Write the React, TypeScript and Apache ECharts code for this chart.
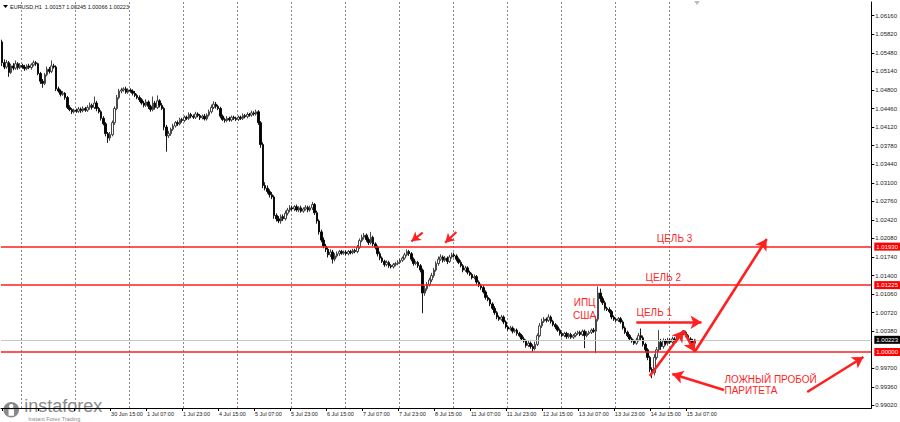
import React, { useEffect, useRef } from 'react';
import * as echarts from 'echarts';

// ---- time axis (H1 bars) ----
const DAYS = ['28 Jun', '29 Jun', '30 Jun', '1 Jul', '4 Jul', '5 Jul', '6 Jul', '7 Jul', '8 Jul', '11 Jul', '12 Jul', '13 Jul', '14 Jul', '15 Jul'];
const FIRST_HOUR = 15; // first bar: 28 Jun 15:00
const LAST_HOUR = 11; // last bar: 15 Jul 11:00
const TOTAL_SLOTS = 387; // bars that fit in the window incl. chart shift
const FIRST_LABEL = 48; // earlier labels sit under the logo

// ---- prices in pips (1.0568 -> 10568) ----
const FIRST_OPEN = 10568;
const CLOSES = [
  // 28 Jun
  10530, 10522, 10530, 10512, 10524, 10520, 10528, 10521, 10525,
  // 29 Jun
  10522, 10519, 10524, 10521, 10526, 10530, 10528, 10510, 10496, 10492, 10508, 10518, 10514, 10524, 10522, 10482, 10478, 10472, 10474, 10466, 10448, 10444, 10440, 10443,
  // 30 Jun
  10441, 10445, 10442, 10446, 10443, 10448, 10452, 10448, 10456, 10446, 10440, 10428, 10418, 10400, 10392, 10398, 10420, 10446, 10466, 10478, 10480, 10482, 10476, 10480,
  // 1 Jul
  10478, 10474, 10470, 10466, 10462, 10456, 10452, 10458, 10450, 10444, 10456, 10448, 10460, 10452, 10446, 10412, 10396, 10400, 10408, 10414, 10420, 10418, 10426, 10424,
  // 4 Jul
  10430, 10428, 10435, 10432, 10430, 10436, 10433, 10429, 10432, 10427, 10434, 10440, 10448, 10454, 10450, 10446, 10432, 10426, 10424, 10428, 10425, 10430, 10428, 10426,
  // 5 Jul
  10430, 10428, 10433, 10431, 10435, 10434, 10438, 10436, 10440, 10420, 10380, 10305, 10300, 10294, 10288, 10284, 10250, 10244, 10240, 10248, 10244, 10254, 10260, 10264,
  // 6 Jul
  10262, 10266, 10260, 10264, 10258, 10262, 10265, 10260, 10264, 10270, 10255, 10240, 10220, 10205, 10194, 10188, 10178, 10183, 10170, 10176, 10180, 10184, 10181, 10183,
  // 7 Jul
  10180, 10184, 10182, 10186, 10184, 10192, 10204, 10210, 10214, 10206, 10200, 10210, 10198, 10192, 10180, 10172, 10166, 10160, 10164, 10158, 10156, 10160, 10162, 10164,
  // 8 Jul
  10168, 10172, 10178, 10184, 10180, 10170, 10162, 10164, 10158, 10150, 10108, 10116, 10124, 10132, 10140, 10150, 10162, 10170, 10174, 10168, 10172, 10166, 10174, 10178,
  // 11 Jul
  10176, 10170, 10164, 10158, 10150, 10154, 10146, 10142, 10136, 10138, 10128, 10122, 10118, 10110, 10100, 10096, 10088, 10080, 10072, 10064, 10060, 10064, 10055, 10046,
  // 12 Jul
  10042, 10044, 10038, 10040, 10034, 10030, 10024, 10020, 10012, 10016, 10010, 10006, 10014, 10030, 10048, 10056, 10060, 10058, 10064, 10056, 10050, 10046, 10040, 10034,
  // 13 Jul
  10030, 10034, 10028, 10032, 10027, 10030, 10034, 10036, 10032, 10038, 10030, 10034, 10036, 10040, 10038, 10060, 10108, 10098, 10090, 10080, 10078, 10074, 10064, 10060,
  // 14 Jul
  10058, 10061, 10055, 10044, 10036, 10030, 10024, 10020, 10016, 10022, 10030, 10026, 10014, 10004, 9990, 9968, 9962, 9990, 10004, 10018, 10010, 10020, 10016, 10022,
  // 15 Jul
  10018, 10024, 10020, 10026, 10030, 10034, 10036, 10030, 10024, 10020, 10016, 10022,
];
const WICK_UP = [
  4, 6, 5, 3, 4, 5, 6, 3, 4,
  3, 4, 3, 4, 3, 4, 3, 2, 3, 4, 3, 5, 4, 10, 4, 3, 4, 3, 4, 2, 3, 4, 3, 3,
  3, 4, 3, 4, 3, 4, 5, 3, 12, 4, 3, 3, 4, 3, 3, 5, 4, 4, 5, 4, 4, 3, 4, 3,
  3, 3, 4, 3, 4, 3, 4, 5, 3, 3, 12, 4, 10, 3, 4, 3, 4, 5, 3, 4, 3, 4, 3, 3,
  3, 3, 4, 3, 3, 4, 3, 3, 3, 4, 3, 4, 5, 5, 4, 3, 3, 3, 3, 4, 3, 3, 3, 3,
  3, 3, 4, 3, 4, 3, 4, 3, 4, 3, 3, 4, 6, 5, 4, 5, 3, 4, 5, 4, 4, 5, 4, 5,
  4, 3, 4, 3, 4, 3, 4, 3, 4, 5, 3, 4, 3, 4, 5, 4, 4, 5, 4, 5, 4, 3, 3, 3,
  3, 3, 3, 3, 3, 4, 4, 5, 4, 3, 4, 10, 3, 3, 3, 4, 3, 3, 4, 3, 3, 3, 3, 4,
  3, 3, 4, 4, 3, 3, 3, 3, 3, 3, 3, 5, 4, 4, 5, 4, 4, 5, 5, 3, 4, 3, 4, 4,
  4, 3, 3, 4, 3, 4, 3, 3, 3, 4, 3, 3, 3, 4, 3, 4, 3, 3, 4, 3, 3, 4, 3, 3,
  3, 4, 3, 3, 3, 3, 3, 4, 3, 4, 3, 4, 5, 4, 5, 5, 4, 3, 5, 3, 3, 3, 3, 3,
  3, 3, 3, 3, 3, 3, 3, 3, 3, 3, 3, 4, 3, 3, 4, 6, 12, 8, 4, 4, 3, 4, 3, 3,
  3, 3, 3, 3, 3, 3, 3, 3, 3, 4, 5, 13, 4, 3, 3, 3, 4, 6, 5, 22, 6, 5, 4, 4,
  3, 4, 3, 4, 4, 3, 4, 3, 3, 3, 4, 2,
];
const WICK_DOWN = [
  6, 4, 3, 8, 3, 4, 3, 4, 3,
  3, 4, 3, 3, 4, 3, 4, 3, 5, 8, 3, 3, 4, 3, 3, 4, 3, 4, 3, 4, 3, 3, 4, 3,
  3, 3, 4, 3, 3, 3, 4, 4, 3, 5, 3, 4, 3, 5, 9, 5, 3, 4, 3, 3, 4, 3, 3, 3,
  3, 4, 3, 3, 4, 3, 4, 3, 5, 4, 3, 4, 3, 4, 3, 6, 29, 4, 4, 3, 3, 4, 3, 4,
  3, 3, 3, 4, 3, 3, 3, 4, 3, 3, 3, 3, 3, 3, 4, 3, 4, 3, 4, 3, 3, 3, 3, 3,
  3, 3, 3, 3, 3, 3, 3, 3, 3, 4, 6, 5, 4, 4, 5, 4, 6, 5, 4, 5, 4, 3, 4, 4,
  3, 4, 3, 4, 3, 3, 3, 4, 3, 4, 4, 5, 5, 4, 4, 5, 5, 4, 8, 4, 3, 4, 3, 3,
  3, 3, 3, 3, 3, 3, 3, 3, 4, 4, 4, 3, 4, 4, 5, 4, 3, 4, 3, 4, 3, 3, 3, 3,
  3, 3, 3, 3, 4, 4, 4, 3, 4, 4, 37, 5, 4, 4, 4, 4, 3, 4, 3, 4, 3, 5, 3, 3,
  3, 4, 3, 3, 4, 3, 4, 3, 3, 3, 4, 3, 4, 3, 4, 3, 4, 3, 4, 4, 3, 3, 4, 3,
  3, 3, 4, 3, 4, 3, 4, 3, 4, 3, 4, 5, 3, 3, 3, 4, 3, 4, 3, 4, 3, 4, 3, 4,
  3, 3, 4, 3, 3, 3, 3, 3, 3, 3, 23, 3, 3, 3, 3, 40, 4, 6, 4, 4, 3, 3, 4, 3,
  3, 3, 3, 3, 3, 3, 3, 3, 3, 3, 3, 4, 4, 5, 5, 5, 10, 5, 4, 4, 6, 4, 4, 4,
  3, 3, 3, 3, 3, 3, 3, 3, 3, 3, 3, 9,
];

// ---- price scale ----
const Y_MIN = 0.98974;
const Y_MAX = 1.06411;
const Y_TICKS = [1.0616, 1.0582, 1.0548, 1.0514, 1.048, 1.0446, 1.0412, 1.0378, 1.0344, 1.031, 1.0276, 1.0242, 1.0208, 1.0174, 1.014, 1.0106, 1.0072, 1.0038, 0.997, 0.9936, 0.9902];
const LEVELS = [1.0193, 1.01225, 1.0];
const BID = 1.00223;
const HEADER = 'EURUSD,H1  1.00157 1.00245 1.00066 1.00223';

// ---- annotations: [barIndex, price] ----
const SMALL_ARROWS = [
  [[186.7, 1.02185], [182.2, 1.02028]],
  [[201.8, 1.02198], [196.6, 1.02002]],
];
const BIG_ARROWS = [
  [[281.7, 1.00544], [310.5, 1.00544]],
  [[287.9, 0.9956], [303.1, 1.0039]],
  [[303.1, 1.0039], [308.3, 1.00005]],
  [[308.3, 1.00005], [340.4, 1.0207]],
  [[320.8, 0.99304], [298.3, 0.99597]],
  [[357.7, 0.99267], [383.4, 0.99908]],
];
const TEXTS = [
  { at: [258.8, 1.00788], text: 'ИПЦ\nСША', pos: 'inside' },
  { at: [290.3, 1.00724], text: 'ЦЕЛЬ 1', pos: 'inside' },
  { at: [294.3, 1.01365], text: 'ЦЕЛЬ 2', pos: 'inside' },
  { at: [298.9, 1.0207], text: 'ЦЕЛЬ 3', pos: 'inside' },
  { at: [321.2, 0.99391], text: 'ЛОЖНЫЙ ПРОБОЙ\nПАРИТЕТА', pos: 'right' },
];

const RED = '#ff1f1f';
const FONT = 'Liberation Sans, Arial, sans-serif';

export default function App() {
  const ref = useRef<HTMLDivElement>(null);

  useEffect(() => {
    if (!ref.current) return;
    const chart = echarts.init(ref.current, undefined, { renderer: 'svg' });

    // categories
    const cats: string[] = [];
    const dayStart = new Set<number>();
    DAYS.forEach((d, di) => {
      const h0 = di === 0 ? FIRST_HOUR : 0;
      const h1 = di === DAYS.length - 1 ? LAST_HOUR : 23;
      for (let h = h0; h <= h1; h++) {
        if (h === 0) dayStart.add(cats.length);
        cats.push(`${d} ${String(h).padStart(2, '0')}:00`);
      }
    });
    const N = cats.length;
    for (let k = cats.length; k < TOTAL_SLOTS; k++) cats.push(`~${k}`);

    const data = CLOSES.map((c, i) => {
      const o = i === 0 ? FIRST_OPEN : CLOSES[i - 1];
      const hi = Math.max(o, c) + WICK_UP[i];
      const lo = Math.min(o, c) - WICK_DOWN[i];
      return [o / 1e4, c / 1e4, lo / 1e4, hi / 1e4];
    });

    const tickInterval = (i: number) => i < N && i % 16 === 0;
    const labelInterval = (i: number) => i < N && i >= FIRST_LABEL && i % 16 === 0;

    const markLines: any[] = [];
    LEVELS.forEach((lv) => {
      markLines.push({
        yAxis: lv,
        symbol: 'none',
        lineStyle: { color: RED, width: 1.6, type: 'solid' },
        label: {
          show: true, position: 'end', distance: 3, formatter: lv.toFixed(5),
          color: '#fff', backgroundColor: '#ff0000', fontSize: 6, fontFamily: FONT,
          padding: [1, 2, 1, 2],
        },
      });
    });
    markLines.push({
      yAxis: BID,
      symbol: 'none',
      lineStyle: { color: '#c8c8c8', width: 1, type: 'solid' },
      label: {
        show: true, position: 'end', distance: 3, formatter: BID.toFixed(5),
        color: '#fff', backgroundColor: '#000', fontSize: 6, fontFamily: FONT,
        padding: [1, 2, 1, 2],
      },
    });
    SMALL_ARROWS.forEach(([a, b]) => {
      markLines.push([
        { coord: a, symbol: 'none', lineStyle: { color: RED, width: 2.2, type: 'solid' }, label: { show: false } },
        { coord: b, symbol: 'arrow', symbolSize: [8, 9] },
      ]);
    });
    BIG_ARROWS.forEach(([a, b]) => {
      markLines.push([
        { coord: a, symbol: 'none', lineStyle: { color: RED, width: 2.6, type: 'solid' }, label: { show: false } },
        { coord: b, symbol: 'arrow', symbolSize: [10, 11] },
      ]);
    });

    const option: any = {
      animation: false,
      backgroundColor: '#ffffff',
      grid: { left: 1, right: 27, top: 2, bottom: 14, show: false },
      xAxis: {
        type: 'category',
        data: cats,
        boundaryGap: true,
        axisLine: { show: true, lineStyle: { color: '#000', width: 1 } },
        axisTick: { show: true, alignWithLabel: true, interval: tickInterval, length: 3, lineStyle: { color: '#000' } },
        axisLabel: {
          interval: labelInterval, align: 'left', fontSize: 5.5, margin: 3, color: '#222',
          fontFamily: FONT, padding: [0, 0, 0, 1],
        },
        splitLine: {
          show: true,
          interval: (i: number) => dayStart.has(i),
          lineStyle: { type: [2, 2], color: '#8a8a8a', width: 1 },
        },
      },
      yAxis: {
        type: 'value',
        position: 'right',
        min: Y_MIN,
        max: Y_MAX,
        scale: true,
        splitLine: { show: false },
        axisLine: { show: true, onZero: false, lineStyle: { color: '#000', width: 1 } },
        axisTick: { show: true, length: 3, customValues: Y_TICKS, lineStyle: { color: '#000' } },
        axisLabel: {
          customValues: Y_TICKS, formatter: (v: number) => v.toFixed(5), fontSize: 6, margin: 4,
          color: '#222', fontFamily: FONT,
        },
      },
      series: [
        {
          type: 'candlestick',
          data,
          barWidth: 2,
          itemStyle: {
            color: '#ffffff', color0: '#000000', borderColor: '#333333', borderColor0: '#000000', borderWidth: 0.9,
          },
          markLine: {
            silent: true,
            symbol: ['none', 'none'],
            precision: 5,
            data: markLines,
          },
          markPoint: {
            silent: true,
            symbol: 'circle',
            symbolSize: 1,
            itemStyle: { color: 'rgba(0,0,0,0)' },
            data: TEXTS.map((t) => ({
              coord: t.at,
              name: t.text,
              label: {
                show: true, position: t.pos, distance: 0, formatter: t.text, color: RED,
                fontSize: 10, fontFamily: FONT, lineHeight: t.pos === 'right' ? 11.5 : 13.5,
                align: t.pos === 'right' ? 'left' : 'center',
              },
            })),
          },
        },
      ],
      graphic: [
        { type: 'polygon', shape: { points: [[3, 5], [8, 5], [5.5, 8]] }, style: { fill: '#000' } },
        { type: 'text', left: 10, top: 4, style: { text: HEADER, fontSize: 5.5, fill: '#111', font: `5.5px ${FONT}` } },
        { type: 'polygon', shape: { points: [[694, 1], [700, 1], [697, 5]] }, style: { fill: '#bdbdbd' } },
        {
          type: 'group', left: 2, top: 396,
          children: [
            { type: 'circle', shape: { cx: 10, cy: 11, r: 8.5 }, style: { fill: '#8a8a8a', stroke: '#fff', lineWidth: 1.5 } },
            { type: 'circle', shape: { cx: 10, cy: 7.5, r: 2.2 }, style: { fill: '#fff' } },
            { type: 'rect', shape: { x: 7.3, y: 10.5, width: 5.4, height: 6.5 }, style: { fill: '#fff' } },
            {
              type: 'text', x: 23, y: 16,
              style: { text: 'instaforex', font: `18px ${FONT}`, fill: '#8a8a8a', stroke: '#fff', lineWidth: 1.5, verticalAlign: 'bottom' },
            },
            { type: 'text', x: 27, y: 17.5, style: { text: 'Instant Forex Trading', font: `5.5px ${FONT}`, fill: '#8a8a8a' } },
          ],
        },
      ],
    };

    chart.setOption(option);
    return () => chart.dispose();
  }, []);

  return <div ref={ref} style={{ position: 'absolute', left: 0, top: 0, width: 900, height: 422 }} />;
}
